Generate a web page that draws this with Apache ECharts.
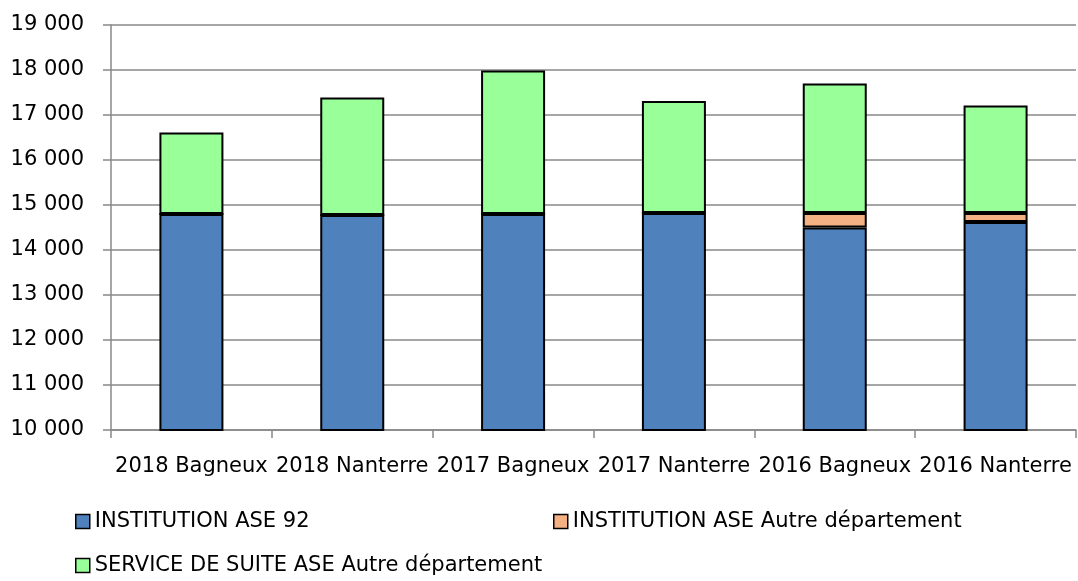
<!DOCTYPE html>
<html>
<head>
<meta charset="utf-8">
<script src="https://cdn.jsdelivr.net/npm/echarts@6/dist/echarts.min.js"></script>
<style>
  html, body { margin: 0; padding: 0; background: #fff; }
  #chart { width: 1078px; height: 581px; }
</style>
</head>
<body>
<div id="chart"></div>
<script>
// données
var categories = ['2018 Bagneux', '2018 Nanterre', '2017 Bagneux', '2017 Nanterre', '2016 Bagneux', '2016 Nanterre'];
var institution92 = [14800, 14780, 14800, 14820, 14500, 14620];
var institutionAutre = [0, 0, 0, 0, 320, 200];
var serviceSuiteAutre = [1810, 2610, 3190, 2490, 2880, 2390];
var seriesNames = ['INSTITUTION ASE 92', 'INSTITUTION ASE Autre département', 'SERVICE DE SUITE ASE Autre département'];
var colors = ['#4f81bd', '#f4b183', '#99ff99'];

var myChart = echarts.init(document.getElementById('chart'));
var font = 'DejaVu Sans';

function fmt(v) {
    return String(v).replace(/\B(?=(\d{3})+(?!\d))/g, ' ');
}

function makeBar(name, data, color) {
    return {
        name: name,
        type: 'bar',
        stack: 'total',
        barWidth: 64,
        data: data,
        animation: false,
        itemStyle: { color: color, borderColor: '#000', borderWidth: 2 }
    };
}

function makeLegend(name, left, top) {
    return {
        data: [name],
        left: left,
        top: top,
        padding: 0,
        itemWidth: 14,
        itemHeight: 14,
        icon: 'rect',
        selectedMode: false,
        itemStyle: { borderWidth: 1.5 },
        textStyle: { fontFamily: font, fontSize: 21, color: '#000' }
    };
}

var option = {
    backgroundColor: '#fff',
    grid: { left: 111, right: 2, top: 25, bottom: 151 },
    legend: [
        makeLegend(seriesNames[0], 75, 511),
        makeLegend(seriesNames[1], 553, 511),
        makeLegend(seriesNames[2], 75, 555)
    ],
    xAxis: {
        type: 'category',
        data: categories,
        axisLine: { lineStyle: { color: '#888', width: 1.5 } },
        axisTick: { show: true, length: 8, lineStyle: { color: '#888', width: 1.5 } },
        axisLabel: { interval: 0, margin: 26, fontFamily: font, fontSize: 21, color: '#000' }
    },
    yAxis: {
        type: 'value',
        min: 10000,
        max: 19000,
        interval: 1000,
        axisLine: { show: true, lineStyle: { color: '#888', width: 1.5 } },
        axisTick: { show: true, length: 8, lineStyle: { color: '#888', width: 1.5 } },
        splitLine: { lineStyle: { color: '#888', width: 1.5 } },
        axisLabel: { margin: 27, fontFamily: font, fontSize: 21, color: '#000', formatter: fmt }
    },
    series: [
        makeBar(seriesNames[0], institution92, colors[0]),
        makeBar(seriesNames[1], institutionAutre, colors[1]),
        makeBar(seriesNames[2], serviceSuiteAutre, colors[2])
    ]
};

option && myChart.setOption(option);
</script>
</body>
</html>
